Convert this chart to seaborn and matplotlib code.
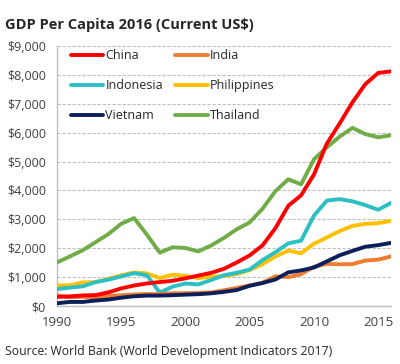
import pandas as pd
import seaborn as sns
import matplotlib.pyplot as plt
from matplotlib.lines import Line2D
from matplotlib.ticker import FuncFormatter, MultipleLocator

# GDP per capita, current US$ (World Bank WDI 2017)
years = list(range(1990, 2017))
china = [318, 333, 366, 377, 473, 610, 709, 782, 829, 873, 959, 1053, 1149, 1289, 1509,
         1753, 2099, 2694, 3468, 3832, 4550, 5618, 6317, 7051, 7679, 8067, 8123]
india = [368, 303, 317, 301, 346, 374, 400, 415, 413, 442, 443, 452, 471, 546, 627,
         714, 806, 1028, 999, 1102, 1358, 1458, 1444, 1450, 1574, 1606, 1717]
indonesia = [585, 636, 680, 828, 912, 1026, 1137, 1064, 464, 671, 780, 748, 900, 1066, 1150,
             1263, 1590, 1861, 2168, 2262, 3125, 3648, 3701, 3624, 3492, 3332, 3570]
philippines = [715, 716, 816, 825, 941, 1062, 1160, 1127, 968, 1085, 1043, 965, 1017, 1032, 1110,
               1245, 1453, 1716, 1919, 1826, 2155, 2372, 2595, 2771, 2843, 2867, 2951]
vietnam = [95, 141, 141, 190, 224, 288, 337, 361, 361, 375, 394, 410, 440, 489, 554,
           700, 797, 919, 1165, 1232, 1334, 1543, 1755, 1908, 2052, 2107, 2186]
thailand = [1509, 1717, 1928, 2209, 2491, 2847, 3044, 2468, 1846, 2033, 2008, 1890, 2097, 2359, 2660,
            2894, 3369, 3974, 4385, 4213, 5076, 5492, 5860, 6168, 5952, 5840, 5911]

series = {"China": china, "India": india, "Indonesia": indonesia,
          "Philippines": philippines, "Vietnam": vietnam, "Thailand": thailand}
colors = {"China": "#FF0000", "India": "#ED7D31", "Indonesia": "#2CBFC4",
          "Philippines": "#FFC000", "Vietnam": "#0B1F5B", "Thailand": "#70AD47"}

df = pd.DataFrame([(c, y, v) for c, vals in series.items() for y, v in zip(years, vals)],
                  columns=["country", "year", "gdp"])

sns.set_style("white")
plt.rcParams['font.family'] = ['Open Sans', 'DejaVu Sans']

fig = plt.figure(figsize=(4.0, 3.64), dpi=100)
ax = fig.add_axes([0.1425, 0.1593, 0.835, 0.7143])

# back-to-front, china on top
draw_order = ["Thailand", "Philippines", "Indonesia", "India", "Vietnam", "China"]
for i, c in enumerate(draw_order):
    sns.lineplot(data=df[df.country == c], x="year", y="gdp", color=colors[c],
                 linewidth=2.8, ax=ax, legend=False, zorder=3 + i)

ax.set_xlim(1990, 2016)
ax.set_ylim(0, 9000)
ax.set_xlabel("")
ax.set_ylabel("")
ax.yaxis.set_major_locator(MultipleLocator(1000))
ax.yaxis.set_major_formatter(FuncFormatter(lambda v, p: f"${v:,.0f}"))
ax.xaxis.set_major_locator(MultipleLocator(5))
ax.xaxis.set_minor_locator(MultipleLocator(1))
ax.grid(axis="y", color="#BFBFBF", linestyle=(0, (3, 1.5)), linewidth=0.8)
ax.set_axisbelow(True)
for s in ["top", "right"]:
    ax.spines[s].set_visible(False)
for s in ["left", "bottom"]:
    ax.spines[s].set_color("#BFBFBF")
    ax.spines[s].set_linewidth(1.0)
ax.tick_params(axis="y", length=0, labelsize=9, colors="#404040", pad=8)
ax.tick_params(axis="x", which="both", length=3, color="#BFBFBF", direction="out",
               labelsize=9.5, labelcolor="#404040", pad=4)

# legend row-major: China India / Indonesia Philippines / Vietnam Thailand
leg_order = ["China", "Indonesia", "Vietnam", "India", "Philippines", "Thailand"]
handles = [Line2D([], [], color=colors[c], linewidth=2.8) for c in leg_order]
ax.legend(handles, leg_order, ncol=2, loc="upper left", bbox_to_anchor=(0.008, 1.03),
          frameon=False, fontsize=9, handlelength=2.6, handletextpad=0.15,
          columnspacing=1.0, labelspacing=1.35, labelcolor="#262626")

fig.text(0.013, 0.93, "GDP Per Capita 2016 (Current US$)", fontsize=10.5,
         fontweight="bold", color="#262626", ha="left", va="center")
fig.text(0.013, 0.033, "Source: World Bank (World Development Indicators 2017)",
         fontsize=8.8, color="#262626", ha="left", va="center")

fig.savefig("out.png", dpi=100)
